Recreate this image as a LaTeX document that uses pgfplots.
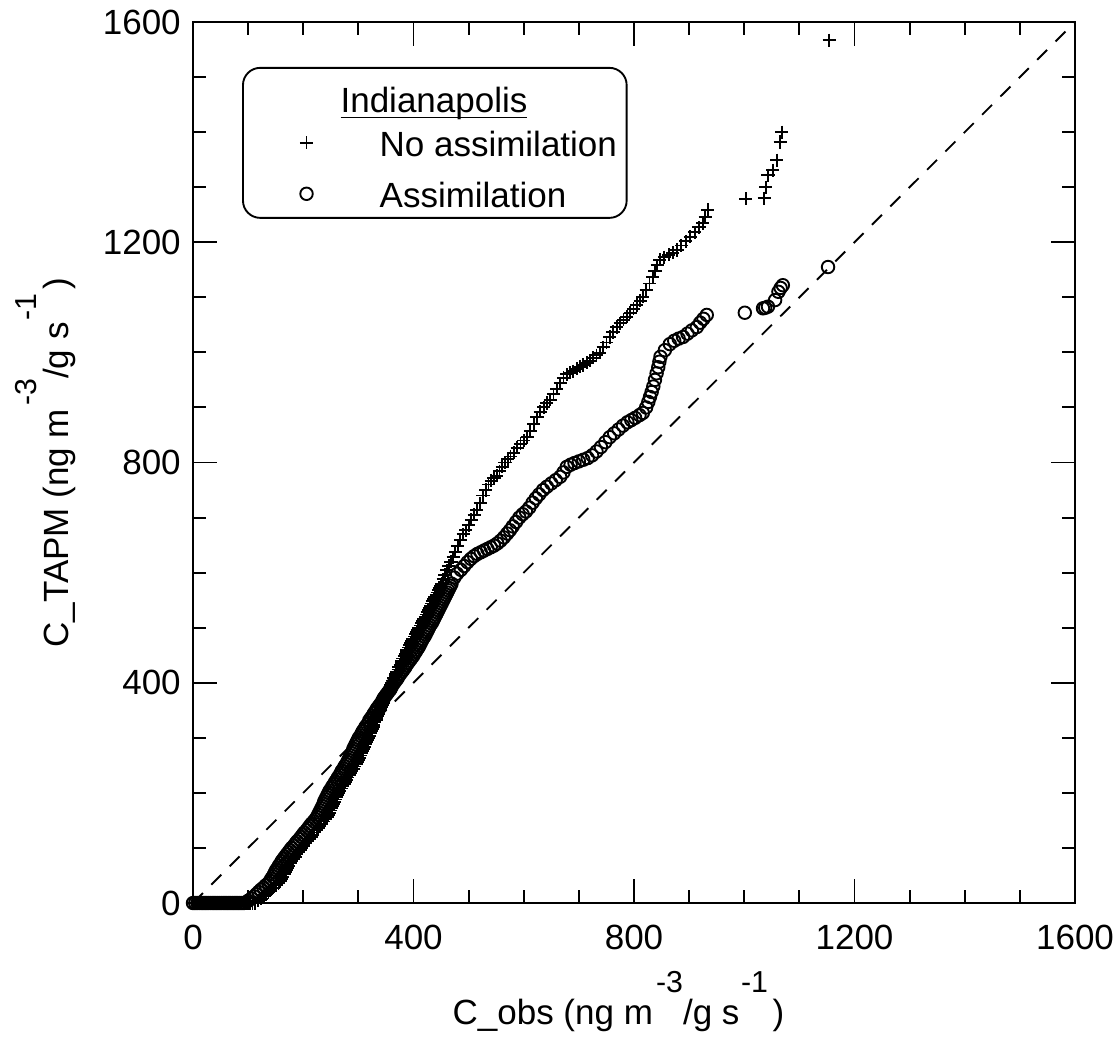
\documentclass[border=0pt]{standalone}
\usepackage{pgfplots}
\pgfplotsset{compat=1.18}
\usepackage{fontspec}
\setmainfont{Liberation Sans}

% superscript as set in the original: same face, raised well above the line
\newcommand{\sups}[1]{\raisebox{10.2pt}{\fontsize{9.7}{10}\selectfont#1}}

\begin{document}
\fontsize{11.2}{13.4}\selectfont
\begin{tikzpicture}
\useasboundingbox (-61.76pt,-42.88pt) rectangle (296.32pt,288.96pt);
\begin{axis}[
    scale only axis,
    width=282.24pt, height=281.92pt,
    xmin=0, xmax=1600, ymin=0, ymax=1600,
    xtick={0,400,...,1600}, ytick={0,400,...,1600},
    minor x tick num=3, minor y tick num=3,
    tick align=inside,
    xtick pos=both, ytick pos=both,
    xticklabel pos=left, yticklabel pos=left,
    major tick length=7.8pt, minor tick length=4.2pt,
    tick style={black, line width=0.6pt},
    axis line style={line width=0.65pt},
    /pgf/number format/1000 sep={},
    /pgf/number format/assume math mode=true,
    xticklabel style={yshift=-3pt},
    clip=false,
    xlabel={C\_obs (ng m\hspace{1pt}\sups{-3}/g s\hspace{0.5pt}\sups{-1}\hspace{1.5pt})},
    ylabel={C\_TAPM (ng m\hspace{1pt}\sups{-3}/g s\hspace{0.5pt}\sups{-1}\hspace{1.5pt})},
    xlabel style={at={(axis description cs:0.4824,-0.1383)}, anchor=base},
    ylabel style={at={(axis description cs:-0.1417,0.5)}, anchor=base},
    legend cell align=left,
    legend style={at={(0.0556,0.949)}, anchor=north west,
        draw=black, line width=0.6pt, rounded corners=5.5pt,
        inner xsep=11.8pt, inner ysep=1pt, row sep=2.9pt,
        nodes={text height=10.2pt, text depth=1.2pt, inner ysep=1pt},
        /tikz/every odd column/.append style={column sep=19.3pt}},
]
\addplot[black, line width=0.6pt, dash pattern=on 4.5pt off 3.8pt, forget plot]
    coordinates {(0,0) (1600,1600)};

\addlegendimage{empty legend}
\addlegendentry{\hspace*{-12.5pt}\raisebox{-2.2pt}{\underline{\smash{Indianapolis}}}}

% No assimilation
\addplot[only marks, mark=+, mark size=2.1pt, black, line width=0.6pt]
coordinates {
(0,0)(4,0)(8,0)(12,0)(16,0)(20,0)(24,0)(28,0)(32,0)(36,0)(40,0)(44,0)(48,0)
(52,0)(56,0)(60,0)(64,0)(68,0)(72,0)(76,0)(80,0)(84,0)(88,0)(92,0)(96,0)(100,0)
(104,0)(108,0)(112,0)
(118,4)(124,8)(129,12)(133,16)(137,20)(141,24)(146,28)(151,32)(155,36)(158,40)
(160,44)(163,48)(165,52)(167,56)(169,60)(172,64)(174,68)(177,72)(179,76)(182,80)
(185,84)(188,88)(191,92)(194,96)(197,100)(201,104)(204,108)(207,112)(211,116)
(214,120)(217,124)(220,128)(224,132)(227,136)(230,140)(233,144)(237,148)(240,152)
(243,156)(245,160)(247,164)(249,168)(251,172)(253,176)(255,180)(256,184)(258,188)
(260,192)(262,196)(264,200)(266,204)(269,208)(271,212)(274,216)(276,220)(279,224)
(281,228)(284,232)(286,236)(288,240)(291,244)(293,248)(296,252)(298,256)(300,260)
(302,264)(304,268)(306,272)(308,276)(309,280)(311,284)(313,288)(315,292)(317,296)
(319,300)(320,304)(322,308)(324,312)(325,316)(327,320)(328,324)(329,328)(332,332)
(333,336)(335,340)(336,344)(338,348)(340,352)(342,356)(343,360)(345,364)(346,368)
(349,372)(350,376)(352,380)(354,384)(355,388)(358,392)(359,396)(361,400)(362,404)
(364,408)(367,412)(368,416)(370,420)(372,424)(373,428)(376,432)(378,436)(379,440)
(381,444)(383,448)(385,452)(387,456)(388,460)(391,464)(393,468)(395,472)(397,476)
(399,480)(402,484)(404,488)(406,492)(408,496)(410,500)(412,504)(415,508)(417,512)
(419,516)(421,520)(423,524)(425,528)(427,532)(429,536)(431,540)(433,544)(435,548)
(437,552)(439,556)(441,560)(443,564)(445,568)(447,572)(449,576)(451,580)
(454,588)(457,596)(460,604)(464,612)(468,620)(472,628)(476,638)(480,648)(485,660)
(490,670)(495,677)(500,686)(505,696)(510,705)(515,714)(521,726)(526,740)(531,750)
(536,760)(541,767)(546,772)(551,776)(556,784)(561,792)(566,800)(571,806)(576,811)
(582,818)(588,827)(594,834)(600,840)(606,846)(612,858)(618,870)(624,882)(630,892)
(636,900)(642,908)(648,914)(654,924)(660,934)(666,944)(672,954)(678,960)(684,963)
(690,966)(696,970)(702,974)(708,977)(714,981)(720,985)(726,990)(732,995)(738,999)
(744,1009)(750,1018)(756,1028)(762,1037)(769,1046)(775,1053)(781,1059)(787,1065)
(793,1072)(799,1079)(805,1086)(811,1094)(816,1101)(822,1113)(828,1125)(834,1137)
(838,1147)(842,1158)(847,1168)(855,1173)(863,1177)(870,1181)(878,1186)(886,1194)
(894,1202)(902,1210)(910,1218)(918,1227)(925,1235)(929,1246)(934,1259)
(1003,1279)(1036,1280)(1039,1300)(1043,1322)(1052,1331)(1059,1349)(1065,1382)
(1068,1400)(1154,1567)
};
\addlegendentry{No assimilation\hspace*{-10.7pt}}

% Assimilation
\addplot[only marks, mark=o, mark size=2pt, black, line width=0.6pt]
coordinates {
(0,0)(4,0)(8,0)(12,0)(16,0)(20,0)(24,0)(28,0)(32,0)(36,0)(40,0)(44,0)(48,0)
(52,0)(56,0)(60,0)(64,0)(68,0)(72,0)(76,0)(80,0)(84,0)(88,0)(92,0)
(100,4)(106,8)(111,12)(115,16)(119,20)(123,24)(128,28)(132,32)(137,36)(140,40)
(142,44)(145,48)(147,52)(149,56)(151,60)(154,64)(156,68)(159,72)(161,76)(164,80)
(167,84)(170,88)(173,92)(176,96)(179,100)(183,104)(186,108)(189,112)(193,116)
(196,120)(199,124)(202,128)(206,132)(209,136)(212,140)(215,144)(219,148)(222,152)
(225,156)(227,160)(229,164)(231,168)(233,172)(235,176)(237,180)(238,184)(240,188)
(242,192)(244,196)(246,200)(248,204)(251,208)(253,212)(256,216)(258,220)(261,224)
(263,228)(266,232)(268,236)(270,240)(273,244)(275,248)(278,252)(280,256)(282,260)
(284,264)(286,268)(288,272)(290,276)(291,280)(293,284)(295,288)(297,292)(299,296)
(301,300)(304,304)(306,308)(308,312)(311,316)(313,320)(316,324)(319,328)(320,332)
(323,336)(326,340)(328,344)(331,348)(333,352)(336,356)(339,360)(342,364)(344,368)
(346,372)(349,376)(352,380)(355,384)(358,388)(360,392)(362,396)(365,400)(368,404)
(371,408)(373,412)(376,416)(379,420)(382,424)(385,428)(387,432)(390,436)(393,440)
(396,444)(399,448)(401,452)(404,456)(406,460)(409,464)(411,468)(413,472)(415,476)
(417,480)(420,484)(422,488)(424,492)(426,496)(428,500)(430,504)(433,508)(435,512)
(437,516)(439,520)(441,524)(443,528)(445,532)(447,536)(449,540)(451,544)(453,548)
(455,552)(457,556)(459,560)(461,564)(463,568)(465,572)(467,576)(469,580)
(474,591)(479,598)(486,605)(492,612)(498,619)(504,625)(510,630)(516,634)(522,637)
(528,640)(534,643)(540,646)(546,649)(552,653)(558,658)(564,664)(570,671)(575,677)
(580,684)(586,692)(592,700)(598,706)(604,711)(610,718)(616,727)(622,735)(628,742)
(635,750)(642,756)(650,762)(658,768)(666,774)(672,782)(678,792)(685,796)(692,799)
(700,802)(708,805)(716,808)(724,813)(732,820)(740,828)(748,837)(756,846)(764,853)
(772,860)(780,867)(788,873)(795,877)(802,881)(810,886)(816,890)(822,900)(826,910)
(829,919)(832,928)(835,938)(838,950)(841,962)(844,973)(846,983)(848,992)(856,1004)
(865,1015)(873,1021)(881,1025)(889,1028)(897,1034)(905,1040)(914,1046)(920,1054)
(926,1061)(932,1068)
(1001,1072)(1034,1080)(1038,1081)(1043,1083)(1056,1095)(1062,1110)(1066,1117)
(1070,1122)(1152,1155)
};
\addlegendentry{Assimilation}
\end{axis}
\end{tikzpicture}
\end{document}
